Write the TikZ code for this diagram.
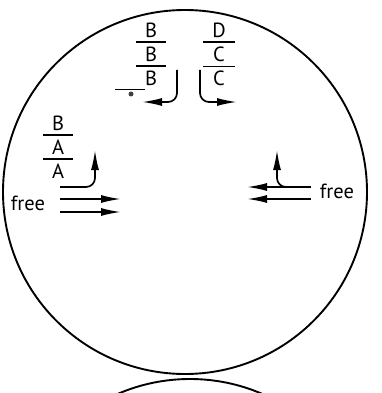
\documentclass[tikz,border=0pt]{standalone}
\usepackage{fontspec}
\setmainfont{PT Sans}
\usetikzlibrary{calc,arrows.meta,positioning}
\newcommand{\diagfont}{\fontsize{20.5}{23}\selectfont}

\begin{document}
\begin{tikzpicture}[x=1pt, y=-1pt,
    cell/.style={draw, circle, line width=1.9pt, minimum size=364pt, inner sep=0pt},
    lab/.style={inner sep=0pt, font=\diagfont},
    bar/.style={line width=1.5pt},
    arr/.style={-{Latex[length=20pt,width=8pt]}, line width=1.7pt, rounded corners=9pt},
    node distance=9pt
  ]
  \useasboundingbox (0,0) rectangle (381,393);
  \clip (0,0) rectangle (381,393);

  % the two cells
  \node[cell] (upper) at (185,192) {};
  \node[cell] (lower) at (190,561) {};

  % top left stack
  \node[lab] (bb1) at (151,30) {B};
  \node[lab, below=of bb1] (bb2) {B};
  \node[lab, below=of bb2] (bb3) {B};
  \draw[bar] ($(bb1)!0.5!(bb2)$) ++(-15,0) -- ++(30,0);
  \draw[bar] ($(bb2)!0.5!(bb3)$) ++(-15,0) -- ++(30,0);

  % top right stack
  \node[lab] (dc1) at (219,30) {D};
  \node[lab, below=of dc1] (dc2) {C};
  \node[lab, below=of dc2] (dc3) {C};
  \draw[bar] ($(dc1)!0.5!(dc2)$) ++(-16,0) -- ++(32,0);
  \draw[bar] ($(dc2)!0.5!(dc3)$) ++(-16,0) -- ++(32,0);

  % left stack
  \node[lab] (ba1) at (58,123) {B};
  \node[lab, below=of ba1] (ba2) {A};
  \node[lab, below=of ba2] (ba3) {A};
  \draw[bar] ($(ba1)!0.5!(ba2)$) ++(-15,0) -- ++(30,0);
  \draw[bar] ($(ba2)!0.5!(ba3)$) ++(-15,0) -- ++(30,0);

  % free labels
  \node[lab] (freeL) at (28,203) {free};
  \node[lab] (freeR) at (337,191) {free};

  % short bar with dot
  \coordinate (stubL) at (115,90);
  \coordinate (stubR) at (145,90);
  \draw[line width=1pt] (stubL) -- (stubR);
  \node[circle, fill=black!75, inner sep=0pt, minimum size=5pt] (dot) at (131,94) {};

  % turning arrows at the top
  \coordinate (tlStart) at (177,70);
  \coordinate (tlEnd) at (142,102);
  \coordinate (trStart) at (200,70);
  \coordinate (trEnd) at (237,102);
  \draw[arr] (tlStart) |- (tlEnd);
  \draw[arr] (trStart) |- (trEnd);

  % left side arrows
  \coordinate (lTurn) at (60,187);
  \coordinate (lUp) at (95,150);
  \coordinate (lA) at (60,199);
  \coordinate (lAt) at (121,199);
  \coordinate (lB) at (60,212);
  \coordinate (lBt) at (121,212);
  \draw[arr] (lTurn) -| (lUp);
  \draw[arr] (lA) -- (lAt);
  \draw[arr] (lB) -- (lBt);

  % right side arrows
  \coordinate (rTurn) at (290,187);
  \coordinate (rUp) at (277,150);
  \coordinate (rA) at (311,187);
  \coordinate (rAt) at (247,187);
  \coordinate (rB) at (311,199);
  \coordinate (rBt) at (247,199);
  \draw[arr] (rA) -- (rAt);
  \draw[arr] (rB) -- (rBt);
  \draw[arr] (rTurn) -| (rUp);
\end{tikzpicture}
\end{document}
